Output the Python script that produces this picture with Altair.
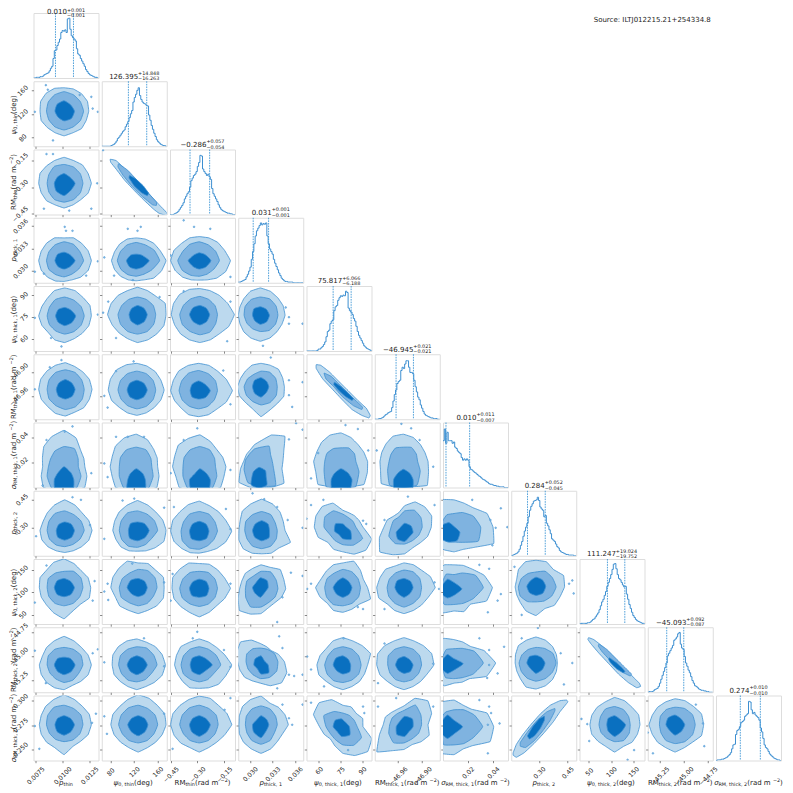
import math
import altair as alt
import pandas as pd

FONT = "DejaVu Sans"
BLUE_L, BLUE_M, BLUE_D, EDGE = "#bcd9ee", "#7fb3e0", "#0a70c0", "#3d8fd1"
SPINE = "#8a8a8a"
N = 11
W = 65
GAP = 3.25

LOW = [0.00732, 65.3, -0.454, 0.02843, 51.4, -47.018, 0.0003, 0.153, 28.7, -45.374, 0.2384]
HIGH = [0.01334, 175.3, -0.089, 0.0371, 96.4, -46.856, 0.0518, 0.496, 175.1, -44.70, 0.3055]
TICKS = [[0.0075, 0.01, 0.0125], [80, 120, 160], [-0.45, -0.30, -0.15], [0.030, 0.033, 0.036],
         [60, 75, 90], [-46.96, -46.90], [0.02, 0.04], [0.30, 0.45], [50, 100, 150],
         [-45.25, -45.00, -44.75], [0.250, 0.275, 0.300]]
FORMATS = [".4f", ".0f", ".2f", ".3f", ".0f", ".2f", ".2f", ".2f", ".0f", ".2f", ".3f"]
NAMES = [
    [("p", "i"), ("thin", "s")],
    [("ψ", "i"), ("0, thin", "s"), (" (deg)", "n")],
    [("RM", "n"), ("thin", "s"), (" (rad m", "n"), ("−2", "u"), (")", "n")],
    [("p", "i"), ("thick, 1", "s")],
    [("ψ", "i"), ("0, thick, 1", "s"), (" (deg)", "n")],
    [("RM", "n"), ("thick, 1", "s"), (" (rad m", "n"), ("−2", "u"), (")", "n")],
    [("σ", "i"), ("RM, thick, 1", "s"), (" (rad m", "n"), ("−2", "u"), (")", "n")],
    [("p", "i"), ("thick, 2", "s")],
    [("ψ", "i"), ("0, thick, 2", "s"), (" (deg)", "n")],
    [("RM", "n"), ("thick, 2", "s"), (" (rad m", "n"), ("−2", "u"), (")", "n")],
    [("σ", "i"), ("RM, thick, 2", "s"), (" (rad m", "n"), ("−2", "u"), (")", "n")],
]
TITLE_MAIN = ["0.010", "126.395", "−0.286", "0.031", "75.817", "−46.945", "0.010", "0.284", "111.247", "−45.093", "0.274"]
TITLE_UP = ["+0.001", "+14.848", "+0.057", "+0.001", "+6.066", "+0.021", "+0.011", "+0.052", "+19.024", "+0.092", "+0.010"]
TITLE_DOWN = ["−0.001", "−16.263", "−0.054", "−0.001", "−6.188", "−0.021", "−0.007", "−0.045", "−19.752", "−0.087", "−0.010"]
QUANT_LO = [33.8, 41.0, 30.8, 23.0, 41.0, 32.8, 4.6, 25.0, 43.0, 29.2, 37.4]
QUANT_HI = [61.5, 69.2, 61.0, 46.7, 68.7, 59.5, 41.0, 52.3, 69.7, 55.4, 68.2]

# histogram heights, percent of the panel height
H0 = [0,0,1,1,1,2,2,3,5,6,7,8,11,15,18,30,42,43,50,55,60,70,73,72,74,70,91,92,75,65,62,60,57,45,37,35,30,26,22,18,13,10,7,5,4,3,2,1,1,0]
H1 = [0,0,0,0,0,0,0,1,2,3,5,8,12,14,17,20,23,25,30,34,38,44,50,55,68,75,80,86,90,78,72,68,66,65,63,62,48,40,32,26,20,15,10,7,5,3,2,1,1,0]
H2 = [0,0,0,1,2,3,5,8,11,14,18,24,28,32,35,42,52,56,60,62,66,74,80,91,90,70,66,63,60,62,58,54,40,32,28,24,20,15,11,8,6,5,4,3,2,2,1,1,0,0]
H3 = [1,1,2,3,4,5,9,13,18,24,36,48,60,72,80,84,88,92,89,91,90,92,72,60,52,48,44,36,30,25,20,15,11,7,5,3,2,2,1,1,1,1,0,0,0,0,0,0,0,0]
H4 = [0,0,0,0,0,0,0,0,1,3,3,5,7,10,14,22,30,32,42,46,48,62,68,70,78,82,85,84,86,85,92,90,66,62,60,56,50,46,38,30,24,20,16,12,8,6,4,3,2,1]
H5 = [0,0,0,1,1,2,3,5,7,8,10,11,12,18,28,38,45,55,58,60,75,80,78,85,90,90,80,72,72,70,60,50,42,34,30,22,17,12,8,6,5,4,3,2,2,1,1,1,0,0]
H6 = [72,90,68,85,72,72,72,68,70,62,60,56,54,52,46,42,44,42,44,42,32,28,27,25,23,22,20,18,17,15,13,12,11,9,8,6,5,5,4,3,3,2,2,1,1,1,1,0,0,0]
H7 = [0,1,2,3,4,6,10,16,22,30,38,44,50,60,70,76,80,84,85,86,90,85,75,72,70,60,62,50,46,40,34,26,24,22,18,14,12,8,6,5,4,3,2,2,1,1,1,1,0,0]
H8 = [0,1,1,1,1,1,2,2,3,5,7,8,11,14,17,22,28,34,38,44,50,58,64,70,76,84,92,93,85,76,70,68,64,60,57,58,46,38,30,24,18,13,10,7,5,4,3,2,1,1]
H9 = [0,1,1,1,2,4,5,6,9,14,20,26,32,38,45,56,60,64,68,72,80,82,85,90,92,74,68,66,55,45,40,34,30,24,18,14,10,9,7,5,4,3,3,2,2,1,1,0,0,0]
H10 = [0,1,1,1,2,2,3,4,5,7,9,12,18,24,25,40,46,48,52,58,60,62,68,70,72,91,90,78,72,74,70,68,66,62,50,44,34,24,20,18,14,10,8,6,4,3,2,1,1,0]
HISTS = [H0, H1, H2, H3, H4, H5, H6, H7, H8, H9, H10]

# panels: centre x, centre y, outer radii (16), middle radii (12), inner radii (8), specks, optional inner centre (percent of panel)
P1_0 = [47,54,[38,39,38,37,36,38,39,39,37,38,36,36,38,36,38,37],[30,29,29,30,29,28,27,27,28,29,28,29],[16,14,16,15,14,13,15,16],[(19,94),(22,87),(2,53),(91,58),(99,53),(89,76),(71,79),(30,9)]]
P2_0 = [47,48,[42,40,40,38,40,38,38,40,39,38,38,36,38,36,36,40],[29,29,29,29,30,27,26,27,29,29,29,29],[17,13,15,14,15,17,19,15],[(30,93),(20,93),(98,48),(16,9),(55,6),(89,9)]]
P3_0 = [47,34,[42,40,38,38,35,38,38,38,39,38,36,34,32,32,36,40],[30,28,29,29,28,27,27,27,25,25,24,26],[17,13,13,14,14,13,13,13],[(50,80),(60,80),(48,86),(81,11),(16,14),(2,17),(99,33)]]
P3_1 = [53,34,[46,40,38,36,35,36,36,36,38,36,34,32,31,32,38,42],[36,32,28,28,28,28,29,27,25,24,24,28],[20,12,10,12,15,14,13,14],[(40,83),(55,80),(60,86),(4,39),(19,11),(48,4)]]
P3_2 = [45,34,[48,42,40,38,37,38,38,42,44,40,36,32,30,32,38,44],[31,29,28,29,29,29,33,30,26,24,24,26],[18,13,12,12,17,13,13,14],[(21,96),(37,86),(62,83),(1,42),(93,9)]]
P4_0 = [48,54,[41,42,40,42,43,42,38,38,40,38,36,40,41,38,38,40],[30,29,28,29,29,27,27,27,27,28,28,29],[17,13,13,14,14,14,15,15],[(43,7),(27,20),(99,56),(2,51)]]
P4_1 = [55,56,[44,46,40,40,42,40,42,44,46,42,40,40,43,42,42,44],[28,28,27,27,27,28,30,30,30,30,30,29],[15,14,14,13,13,14,16,15],[(10,76),(22,20),(89,83),(2,59)]]
P4_2 = [46,56,[53,46,42,40,40,42,44,44,44,42,42,42,43,42,42,48],[27,27,27,28,28,29,31,31,30,31,31,28],[15,14,14,15,16,15,16,15],[(93,76),(21,92),(88,15)]]
P4_3 = [34,55,[38,38,38,40,42,40,36,34,34,34,36,38,40,38,36,36],[27,28,29,28,28,27,25,24,24,25,27,27],[14,13,13,14,12,12,14,14],[(73,67),(78,42),(99,42),(38,8),(78,52)]]
P5_0 = [49,46,[41,40,38,38,41,40,40,41,41,40,38,40,41,38,40,40],[29,29,30,30,30,29,28,29,29,31,31,30],[15,14,15,14,14,15,15,15],[(43,91),(25,80),(2,46)]]
P5_1 = [54,45,[42,40,40,40,41,42,44,44,44,42,38,38,39,38,38,40],[29,29,29,29,29,29,29,28,28,29,29,29],[16,15,15,15,15,15,15,15],[(22,74),(49,89),(4,36),(9,18)]]
P5_2 = [44,44,[52,46,42,42,42,42,43,42,43,40,38,40,40,40,40,46],[29,30,30,31,31,30,30,29,28,28,28,28],[18,14,15,14,13,14,13,15],[(82,75),(93,23)]]
P5_3 = [35,50,[36,36,38,36,36,36,34,34,36,36,34,36,46,38,36,38],[25,26,26,24,22,24,26,26,26,28,28,27],[12,12,14,14,13,14,16,12],[(78,60),(99,57),(78,37),(83,19),(50,95)]]
P6_0 = [47,32,[32,33,36,48,56,50,44,36,33,38,45,40,40,40,45,38],[22,25,32,31,28,24,24,30,38,35,38,30],[15,15,20,14,15,20,20,20],[(60,94),(48,86),(20,73),(14,3),(89,22)],(47,12)]
P6_1 = [53,32,[33,35,38,45,50,48,45,40,40,40,45,40,40,40,45,38],[24,26,30,30,30,28,26,30,38,35,38,30],[14,14,17,13,13,20,20,20],[(40,78),(22,78),(4,37),(9,16),(65,78)],(53,12)]
P6_2 = [46,32,[40,38,37,42,49,47,47,42,42,40,45,40,40,40,45,40],[24,26,30,31,30,28,26,30,38,35,38,30],[16,14,17,12,16,20,20,20],[(21,73),(1,22),(93,27),(42,91)],(46,12)]
P6_3 = [35,42,[34,38,52,42,30,26,23,24,26,34,48,45,42,45,50,35],[17,17,25,20,20,20,24,30,40,40,45,22],[11,14,15,12,11,17,17,17],[(89,99),(99,89),(78,74)],(32,16)]
P6_4 = [53,40,[41,38,37,40,44,44,42,40,42,42,50,42,42,42,50,44],[23,24,24,21,23,25,25,30,45,40,45,32],[17,15,17,14,15,20,20,20],[(60,96),(79,90),(95,57),(18,53),(7,14)],(53,12)]
P6_5 = [44,40,[38,36,37,40,42,42,38,36,36,38,48,42,40,42,52,42],[22,23,25,22,24,22,22,28,42,40,42,30],[15,14,16,13,15,20,20,20],[(41,98),(56,91),(69,73),(90,32),(3,57)],(44,12)]
P7_0 = [48,39,[42,40,38,42,47,42,38,36,38,38,36,34,34,34,36,40],[30,29,28,30,30,28,27,27,26,25,25,27],[15,14,13,13,13,15,15,15],[(73,86),(60,90),(87,47),(4,30)]]
P7_1 = [55,39,[44,42,40,42,46,42,40,38,38,36,36,34,32,34,38,44],[31,30,29,30,31,29,28,28,28,26,25,25],[18,15,13,15,14,17,16,16],[(32,85),(50,88),(4,26),(96,74)]]
P7_2 = [45,38,[50,44,42,42,46,44,42,44,44,42,38,36,34,34,38,44],[28,28,30,30,30,28,28,30,30,28,26,26],[15,15,15,15,15,17,15,16],[(6,75),(86,72),(93,41)]]
P7_3 = [36,39,[36,36,40,44,48,44,42,36,35,38,40,38,36,38,38,48],[24,24,28,29,28,28,26,26,28,28,28,26],[12,14,15,14,14,15,16,16],[(22,96),(40,87),(60,75),(76,55),(99,43)]]
P7_4 = [56,44,[31,27,25,24,26,40,45,45,44,41,33,37,38,45,50,48],[20,18,17,20,29,32,29,23,24,27,32,35],[12,8,11,16,13,8,12,18],[(7,78),(0,57),(26,86),(92,49),(87,54)],(56,38)]
P7_5 = [46,44,[41,45,44,42,33,24,24,29,32,42,54,46,41,34,34,38],[27,29,30,25,18,20,21,28,29,26,24,25],[13,14,14,10,13,15,14,10],[(92,78),(15,55),(51,91)],(46,36)]
P7_6 = [17,44,[60,55,42,40,42,46,44,35,30,35,40,38,38,37,44,66],[41,34,26,21,22,20,20,20,25,23,27,43],[17,12,15,15,10,15,15,18],[(73,55),(81,43),(76,16),(45,86),(89,73),(99,44)],(9,36)]
P8_0 = [47,56,[41,40,37,40,44,42,38,40,38,38,38,42,48,38,36,42],[29,30,29,25,26,28,26,27,28,28,28,28],[16,14,14,15,15,15,14,15],[(94,66),(91,36),(2,33),(20,90)]]
P8_1 = [56,56,[40,42,38,40,38,44,42,42,42,38,40,38,40,38,40,42],[29,30,30,28,26,28,29,30,27,28,28,27],[14,14,14,16,17,14,14,14],[(4,50),(10,37),(9,62),(47,93),(96,64)]]
P8_2 = [45,55,[48,42,40,40,38,42,42,44,42,42,40,40,44,40,38,42],[28,28,28,26,28,29,30,30,28,28,28,28],[15,15,14,14,15,16,14,16],[(93,62),(4,77),(1,36)]]
P8_3 = [35,54,[38,38,42,36,37,34,34,32,33,38,47,42,38,31,30,34],[26,27,30,27,23,25,24,27,32,28,24,25],[12,15,15,10,12,12,15,10],[(81,79),(99,74),(68,41),(60,3)],(34,56)]
P8_4 = [56,56,[38,34,38,44,38,38,36,36,42,38,34,38,38,36,36,46],[27,27,28,28,26,28,28,29,30,28,28,28],[14,13,15,13,15,14,15,14],[(7,62),(1,54),(79,26),(87,23)]]
P8_5 = [45,56,[48,44,38,38,38,36,40,40,42,42,36,38,40,38,38,40],[27,28,28,27,26,26,26,27,28,30,28,28],[14,14,14,15,14,13,15,13],[(15,23),(99,54),(92,64)]]
P8_6 = [17,56,[59,50,40,37,35,38,36,24,25,30,40,42,36,40,36,54],[45,38,26,20,24,20,20,24,30,26,28,34],[22,14,15,10,8,12,14,14],[(56,91),(71,85),(89,46),(84,36),(69,18)],(7,54)]
P8_7 = [38,57,[44,46,38,42,41,42,38,32,32,32,34,40,44,36,40,40],[31,29,28,23,24,26,27,28,26,23,25,28],[15,14,14,12,14,14,14,15],[(16,14),(5,88),(89,62),(96,47),(94,67)],(38,58)]
P9_0 = [47,42,[42,40,38,40,44,40,38,36,38,38,38,38,38,34,36,40],[29,30,28,27,28,28,26,25,25,27,27,26],[17,14,12,14,15,14,15,15],[(91,60),(2,64),(19,14),(99,66)]]
P9_1 = [54,42,[44,42,40,38,40,40,40,40,38,38,36,36,38,36,38,42],[31,30,30,28,28,29,28,27,27,26,26,26],[16,14,14,14,15,14,15,14],[(65,83),(4,46),(96,40)]]
P9_2 = [45,42,[50,42,38,38,40,38,40,38,38,36,36,38,36,38,42,44],[33,30,28,28,28,28,28,28,26,26,26,26],[20,14,14,15,14,15,15,13],[(35,83),(42,93),(93,39),(83,65)]]
P9_3 = [34,47,[37,30,24,25,28,36,43,39,35,34,34,32,33,40,46,44],[27,25,22,21,23,24,22,22,23,26,28,29],[11,8,14,13,11,8,14,17],[(78,27),(86,25),(68,68),(63,86),(99,27),(60,6)],(35,42)]
P9_4 = [56,42,[38,46,42,40,42,40,36,38,40,40,36,36,38,36,36,36],[28,28,28,28,28,27,28,28,28,27,27,28],[12,12,14,15,15,13,14,15],[(57,83),(7,35),(1,55),(27,9)]]
P9_5 = [45,42,[46,46,42,40,42,40,42,44,42,40,36,36,38,36,36,38],[27,28,28,28,28,28,25,25,26,26,26,26],[14,12,13,13,13,12,13,14],[(15,75),(90,44),(5,14)]]
P9_6 = [17,45,[64,50,36,35,36,41,38,30,27,28,38,38,31,32,34,54],[45,36,26,22,24,20,18,20,26,24,26,34],[24,12,14,10,8,12,15,14],[(56,83),(71,65),(71,42),(84,29),(94,70),(68,22)],(7,44)]
P9_7 = [38,45,[33,34,36,38,40,38,38,34,32,32,34,40,40,38,36,34],[31,30,26,24,24,25,26,26,27,28,28,29],[14,12,12,14,14,12,16,14],[(16,83),(76,60),(94,45),(81,12),(41,99)]]
P10_0 = [47,55,[42,42,40,42,46,42,40,38,38,38,38,38,46,36,36,40],[29,30,29,30,31,29,27,26,26,26,27,28],[16,14,14,14,14,15,16,15],[(90,58),(2,53),(9,18),(96,72)]]
P10_1 = [56,55,[43,44,42,44,46,42,40,42,42,40,38,38,42,38,38,40],[30,30,29,30,30,30,30,28,28,28,28,28],[15,14,14,14,16,15,17,15],[(8,41),(4,68),(96,72)]]
P10_2 = [45,55,[50,46,42,44,44,42,42,44,44,42,40,38,42,38,38,42],[29,30,29,30,30,30,30,28,28,28,28,28],[17,14,14,14,15,16,18,16],[(84,78),(93,96),(4,18)]]
P10_3 = [35,55,[42,40,38,36,44,42,40,36,34,36,38,40,44,40,36,36],[25,26,28,29,28,26,24,25,28,30,28,24],[12,12,14,10,13,16,20,12],[(78,65),(99,86),(68,86),(83,55)]]
P10_4 = [56,52,[31,33,29,33,33,45,52,49,36,31,27,32,41,48,54,48],[22,20,20,21,27,34,26,22,23,28,33,33],[12,9,12,14,13,10,15,18],[(7,89),(87,83),(89,73),(64,16)],(54,52)]
P10_5 = [45,55,[37,46,52,44,29,26,27,31,32,41,59,43,38,33,37,42],[27,30,35,22,20,21,22,27,32,28,25,26],[13,17,16,11,13,17,15,10],[(90,83),(33,96),(5,83)],(46,52)]
P10_6 = [17,52,[61,55,38,36,41,42,42,30,28,28,38,45,43,37,41,60],[44,36,30,26,26,24,20,22,32,28,30,34],[23,14,18,12,8,14,18,15],[(56,93),(71,83),(87,57),(69,55),(74,73),(69,11)],(7,52)]
P10_8 = [54,55,[39,40,38,40,42,38,38,38,38,38,36,36,42,36,38,38],[24,25,27,28,28,25,24,24,24,26,28,26],[17,12,14,14,12,14,18,15],[(12,56),(3,64),(15,30),(84,16),(74,1)]]
P10_9 = [42,55,[44,44,40,40,40,38,38,38,40,38,38,38,42,38,38,44],[31,31,29,27,27,26,24,25,28,29,30,31],[15,13,15,15,14,12,16,14],[(85,57),(8,11),(87,22),(0,43),(74,86)]]

# narrow panels: outlines as explicit corners (percent of panel), then specks
E2_1 = [[(13,85),(22,83),(35,71),(50,56),(65,40),(80,24),(92,11),(100,3),(101,-2),(88,2),(80,8),(65,22),(50,37),(35,53),(22,70),(14,80)],
        [(26,78),(40,68),(55,52),(70,35),(84,19),(84,14),(78,15),(62,28),(47,43),(33,60),(25,73)],
        [(43,60),(52,55),(64,44),(72,33),(70,29),(62,33),(50,44),(42,56)],[(2,99)]]
E5_4 = [[(15,84),(22,83),(35,73),(50,58),(65,43),(80,28),(92,17),(98,6),(96,2),(85,6),(70,15),(55,30),(40,46),(25,62),(15,78)],
        [(27,71),(38,66),(52,52),(68,36),(86,19),(85,15),(72,21),(55,35),(42,50),(30,62)],
        [(43,57),(52,51),(62,42),(72,32),(70,29),(60,35),(50,44),(42,53)],[]]
E9_8 = [[(14,84),(22,81),(35,71),(50,57),(65,40),(80,26),(92,14),(94,9),(88,7),(75,15),(60,28),(45,44),(30,60),(18,74),(13,81)],
        [(30,74),(42,66),(58,50),(72,36),(80,28),(78,25),(66,31),(50,46),(35,62),(29,71)],
        [(46,53),(56,46),(66,37),(70,32),(67,30),(57,36),(48,45),(45,50)],[]]
E10_7 = [[(3,12),(8,25),(18,40),(30,55),(45,72),(60,85),(75,92),(85,93),(87,90),(75,75),(65,60),(50,42),(35,26),(20,12),(8,5),(3,8)],
         [(14,28),(25,44),(40,62),(55,75),(67,80),(67,76),(60,62),(48,45),(35,30),(22,20),(14,22)],
         [(25,38),(33,52),(43,64),(51,68),(51,62),(45,50),(36,38),(28,33)],[]]

CHAR = {"0":.636,"1":.636,"2":.636,"3":.636,"4":.636,"5":.636,"6":.636,"7":.636,"8":.636,"9":.636,
        ".":.318,",":.318," ":.318,"(":.39,")":.39,"R":.695,"M":.863,"t":.392,"h":.634,"i":.278,"n":.634,
        "c":.55,"k":.579,"d":.635,"e":.615,"g":.635,"r":.411,"a":.613,"m":.974,"p":.635,"ψ":.685,"σ":.603,
        "−":.838,"+":.838}
SIZE_MAIN, SIZE_SMALL, SIZE_TICK = 7.0, 4.9, 6.3


def text_w(s, size):
    return sum(CHAR.get(ch, .6) for ch in s) * size


def label(x, y, txt, size, angle=0, style="normal", align="left"):
    return alt.Chart(pd.DataFrame({"a": [0]})).mark_text(
        text=txt, font=FONT, fontSize=size, angle=angle, align=align, baseline="middle",
        fontStyle=style, color="#1c1c1c").encode(x=alt.value(x), y=alt.value(y))


def frag_layers(parts, center, fixed, vertical):
    sizes = [SIZE_SMALL if k in "su" else SIZE_MAIN for _, k in parts]
    total = sum(text_w(t, s) for (t, _), s in zip(parts, sizes))
    pos = -total / 2
    out = []
    for (t, k), s in zip(parts, sizes):
        shift = {"s": 2.0, "u": -2.4}.get(k, 0)
        style = "italic" if k == "i" else "normal"
        if vertical:
            out.append(label(fixed + shift, center - pos, t, s, angle=270, style=style))
        else:
            out.append(label(center + pos, fixed + shift, t, s, style=style))
        pos += text_w(t, s)
    return out


def scale(i):
    return alt.Scale(domain=[LOW[i], HIGH[i]], nice=False, zero=False)


def pad(i):
    s = max(text_w(("−" if v < 0 else "") + format(abs(v), FORMATS[i]), SIZE_TICK) for v in TICKS[i])
    return 2.5 + 0.354 * (s + SIZE_TICK)


def axis(i, show):
    kw = dict(values=TICKS[i], title=None, domain=False, grid=False, ticks=True, tickSize=2.2,
              tickWidth=0.7, tickColor="#555555")
    if show:
        kw.update(labels=True, labelAngle=-45, labelAlign="center", labelBaseline="middle",
                  labelPadding=pad(i), labelFont=FONT, labelFontSize=SIZE_TICK, labelColor="#262626",
                  labelOverlap=False, labelFlush=False, labelBound=False,
                  labelExpr="replace(format(datum.value,'%s'),'-','−')" % FORMATS[i])
    else:
        kw.update(labels=False)
    return alt.Axis(**kw)


def to_x(i, f):
    return LOW[i] + f / 100 * (HIGH[i] - LOW[i])


def to_y(i, f):
    return LOW[i] + f / 100 * (HIGH[i] - LOW[i])


def polar(cx, cy, radii):
    n = len(radii)
    return [(cx + r * math.cos(2 * math.pi * k / n), cy + r * math.sin(2 * math.pi * k / n)) for k, r in enumerate(radii)]


def corner_panel(r, c):
    name = f"E{r}_{c}"
    if name in globals():
        o, m, inn, specks = globals()[name]
        tens = (0.75, 0.75, 0.75)
    else:
        p = globals()[f"P{r}_{c}"]
        cx, cy = p[0], p[1]
        icx, icy = p[6] if len(p) > 6 else (cx, cy)
        o, m, inn, specks = polar(cx, cy, p[2]), polar(cx, cy, p[3]), polar(icx, icy, p[4]), p[5]
        tens = (0.8, 0.6, 0.45)
    enc_x = alt.X("x:Q", scale=scale(c), axis=axis(c, r == N - 1))
    enc_y = alt.Y("y:Q", scale=scale(r), axis=axis(r, c == 0))
    layers = []
    for pts, col, tension in zip((o, m, inn), (BLUE_L, BLUE_M, BLUE_D), tens):
        df = pd.DataFrame({"x": [to_x(c, a) for a, _ in pts], "y": [to_y(r, b) for _, b in pts],
                           "i": list(range(len(pts)))})
        layers.append(alt.Chart(df).mark_line(fill=col, stroke=EDGE, strokeWidth=0.8, clip=True,
                                              interpolate="cardinal-closed", tension=tension).encode(
            x=enc_x, y=enc_y, order=alt.Order("i:Q")))
    if specks:
        df = pd.DataFrame({"x": [to_x(c, a) for a, _ in specks], "y": [to_y(r, b) for _, b in specks]})
        layers.append(alt.Chart(df).mark_point(filled=True, fill="#8fc0e6", stroke=EDGE, strokeWidth=0.5,
                                               size=3, opacity=1, clip=True).encode(x=enc_x, y=enc_y))
    if c == 0:
        layers += frag_layers(NAMES[r], W / 2, -19.5, True)
    if r == N - 1:
        layers += frag_layers(NAMES[c], W / 2, 87.5, False)
    return alt.layer(*layers).properties(width=W, height=W)


def diag_panel(i):
    xs = [to_x(i, k * 2) for k in range(len(HISTS[i]) + 1)]
    ys = list(HISTS[i]) + [0]
    df = pd.DataFrame({"x": xs, "y": ys})
    enc_x = alt.X("x:Q", scale=scale(i), axis=axis(i, i == N - 1))
    enc_y = alt.Y("y:Q", scale=alt.Scale(domain=[0, 100], nice=False), axis=None)
    line = alt.Chart(df).mark_line(color=EDGE, strokeWidth=1.0, interpolate="step-after", clip=True).encode(x=enc_x, y=enc_y)
    qdf = pd.DataFrame({"x": [to_x(i, QUANT_LO[i]), to_x(i, QUANT_HI[i])]})
    rule = alt.Chart(qdf).mark_rule(color="#3f97d6", strokeWidth=0.9, strokeDash=[1.6, 1]).encode(x=alt.X("x:Q", scale=scale(i), axis=None))
    mw = text_w(TITLE_MAIN[i], SIZE_MAIN)
    sw = text_w(TITLE_UP[i], SIZE_SMALL)
    start = W / 2 - (mw + sw) / 2
    # the first title sits right under the page's top edge, so it stays low enough to be whole
    y_main, y_up, y_down = (-0.6, -1.6, 3.2) if i == 0 else (-4.7, -7.3, -1.8)
    layers = [line, rule,
              label(start, y_main, TITLE_MAIN[i], SIZE_MAIN),
              label(start + mw, y_up, TITLE_UP[i], SIZE_SMALL),
              label(start + mw, y_down, TITLE_DOWN[i], SIZE_SMALL)]
    if i == N - 1:
        layers += frag_layers(NAMES[i], W / 2, 87.5, False)
    return alt.layer(*layers).properties(width=W, height=W)


def blank(txt=None):
    base = alt.Chart(pd.DataFrame({"a": [0]})).mark_point(opacity=0).encode(
        x=alt.X("a:Q", axis=None), y=alt.Y("a:Q", axis=None))
    if txt:
        base = alt.layer(base, label(14.2, 7, txt, SIZE_MAIN))
    return base.properties(width=W, height=W, view=alt.ViewConfig(stroke=None))


SOURCE = "Source: ILTJ012215.21+254334.8"
cells = []
for r in range(N):
    for c in range(N):
        if c < r:
            cells.append(corner_panel(r, c))
        elif c == r:
            cells.append(diag_panel(r))
        elif r == 0 and c == 8:
            cells.append(blank(SOURCE))
        else:
            cells.append(blank())

chart = alt.concat(*cells, columns=N, spacing=GAP, bounds="flush").properties(
    padding={"left": -1.5, "top": -1, "right": 0, "bottom": 0}
).configure_view(stroke=SPINE, strokeWidth=1.5).configure(background="white")

chart.save("out.html", embed_options={"renderer": "svg", "actions": False})
